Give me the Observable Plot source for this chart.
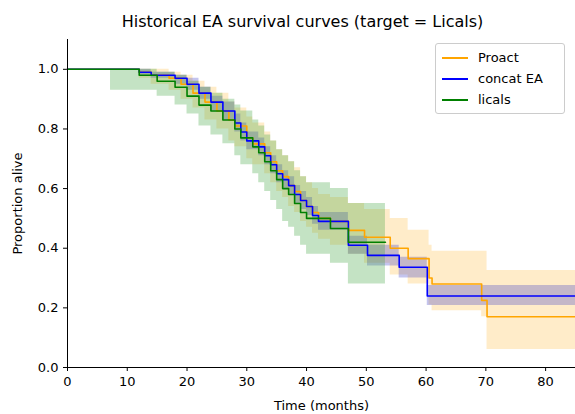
<!DOCTYPE html>
<html><head><meta charset="utf-8">
<script src="https://cdn.jsdelivr.net/npm/d3@7"></script>
<script src="https://cdn.jsdelivr.net/npm/@observablehq/plot@0.6"></script>
<style>
body{margin:0;font-family:"DejaVu Sans",sans-serif;background:#fff}
#wrap{position:relative;width:575px;height:414px}
#title{height:36px;line-height:44px;text-align:center;font-size:16px;padding-left:30px}
#legend{position:absolute;left:435px;top:43px;width:128px;border:1px solid #ccc;border-radius:3px;background:#fff;font-size:13px;padding:3px 0}
#legend div{display:flex;align-items:center;height:21px;padding-left:6px}
#legend span{display:inline-block;width:26px;height:2px;margin-right:10px}
</style></head>
<body><div id="wrap"><div id="title">Historical EA survival curves (target = Licals)</div><div id="chart"></div><div id="legend"></div></div>
<script>
// Kaplan-Meier steps
let proactT  = [0, 12, 14, 17, 19, 21, 23, 25, 27, 28, 30, 31, 33, 34, 35, 36, 37, 38, 39, 40, 41, 42, 44, 47, 49.7, 54, 57, 60.5, 61, 69.3, 70.2, 85];
let proactS  = [1, 0.99, 0.98, 0.97, 0.95, 0.92, 0.89, 0.86, 0.83, 0.81, 0.77, 0.75, 0.72, 0.69, 0.66, 0.64, 0.61, 0.59, 0.56, 0.54, 0.52, 0.50, 0.49, 0.46, 0.437, 0.40, 0.365, 0.30, 0.28, 0.225, 0.17, 0.17];
let proactLo = [1, 0.97, 0.95, 0.93, 0.90, 0.87, 0.83, 0.80, 0.76, 0.74, 0.70, 0.68, 0.65, 0.62, 0.59, 0.57, 0.54, 0.52, 0.49, 0.47, 0.45, 0.43, 0.41, 0.38, 0.35, 0.31, 0.28, 0.21, 0.19, 0.17, 0.06, 0.06];
let proactHi = [1, 1.0, 1.0, 0.99, 0.98, 0.96, 0.94, 0.92, 0.89, 0.87, 0.84, 0.82, 0.79, 0.76, 0.73, 0.71, 0.69, 0.67, 0.64, 0.62, 0.60, 0.58, 0.57, 0.55, 0.53, 0.50, 0.46, 0.41, 0.39, 0.39, 0.325, 0.325];

let concatT  = [0, 12, 14, 18, 20, 22, 24, 26, 28, 29, 30, 32, 33, 34, 35, 36, 37, 38, 39, 40, 41, 42, 47, 50.2, 55.5, 60.2, 85];
let concatS  = [1, 0.99, 0.98, 0.97, 0.95, 0.92, 0.89, 0.86, 0.82, 0.79, 0.76, 0.74, 0.71, 0.68, 0.65, 0.63, 0.61, 0.58, 0.56, 0.54, 0.51, 0.49, 0.41, 0.376, 0.336, 0.24, 0.24];
let concatLo = [1, 0.98, 0.97, 0.95, 0.93, 0.90, 0.86, 0.83, 0.79, 0.76, 0.73, 0.71, 0.68, 0.65, 0.62, 0.60, 0.58, 0.55, 0.53, 0.51, 0.48, 0.46, 0.38, 0.34, 0.30, 0.208, 0.208];
let concatHi = [1, 1.0, 0.99, 0.98, 0.97, 0.94, 0.91, 0.89, 0.85, 0.82, 0.79, 0.77, 0.74, 0.71, 0.68, 0.66, 0.64, 0.61, 0.59, 0.57, 0.54, 0.52, 0.44, 0.41, 0.37, 0.275, 0.275];

let licalsT  = [0, 7.2, 12, 15, 18, 20, 22, 24, 26, 28, 29, 31, 32, 33, 34, 35, 36, 37, 38, 39, 40, 44, 47, 53.2];
let licalsS  = [1, 1.0, 0.98, 0.96, 0.94, 0.91, 0.88, 0.86, 0.83, 0.80, 0.77, 0.74, 0.72, 0.69, 0.66, 0.63, 0.60, 0.58, 0.55, 0.52, 0.50, 0.466, 0.42, 0.42];
let licalsLo = [1, 0.93, 0.93, 0.91, 0.88, 0.85, 0.81, 0.78, 0.75, 0.71, 0.68, 0.65, 0.62, 0.59, 0.56, 0.53, 0.49, 0.47, 0.44, 0.41, 0.38, 0.35, 0.28, 0.28];
let licalsHi = [1, 1.0, 1.0, 0.99, 0.98, 0.96, 0.94, 0.92, 0.90, 0.88, 0.86, 0.83, 0.81, 0.78, 0.76, 0.73, 0.71, 0.69, 0.66, 0.64, 0.62, 0.60, 0.55, 0.55];

let names  = ["Proact", "concat EA", "licals"];
let colors = ["orange", "#0000ff", "green"];
let fills  = ["#ffc04d", "#3b3bc8", "#3aa23a"];

const rows = (t, s, lo, hi, g) => t.map((x, i) => ({t: x, s: s[i], lo: lo[i], hi: hi[i], g}));
let series = [
  rows(proactT, proactS, proactLo, proactHi, 0),
  rows(concatT, concatS, concatLo, concatHi, 1),
  rows(licalsT, licalsS, licalsLo, licalsHi, 2)
];

let marks = [];
series.forEach((d, i) => marks.push(Plot.areaY(d, {x: "t", y1: "lo", y2: "hi", curve: "step-after", fill: fills[i], fillOpacity: 0.3})));
series.forEach((d, i) => marks.push(Plot.line(d, {x: "t", y: "s", curve: "step-after", stroke: colors[i], strokeWidth: 1.6})));
marks.push(Plot.ruleX([0], {stroke: "#000"}), Plot.ruleY([0], {stroke: "#000"}));

let chart = Plot.plot({
  width: 575, height: 378,
  marginLeft: 67, marginRight: 0, marginTop: 3, marginBottom: 47,
  style: {fontSize: "13px", fontFamily: "DejaVu Sans"},
  x: {domain: [0, 85], ticks: d3.range(0, 90, 10), tickSize: 4, label: "Time (months)", labelAnchor: "center", labelArrow: "none", labelOffset: 42},
  y: {domain: [0, 1.1], ticks: d3.range(0, 1.01, 0.2), tickFormat: d3.format(".1f"), tickSize: 4, label: "Proportion alive", labelAnchor: "center", labelArrow: "none", labelOffset: 55},
  marks
});
d3.select("#chart").append(() => chart);

d3.select("#legend").selectAll("div").data(names).join("div")
  .html((d, i) => `<span style="background:${colors[i]}"></span>${d}`);
</script></body></html>
